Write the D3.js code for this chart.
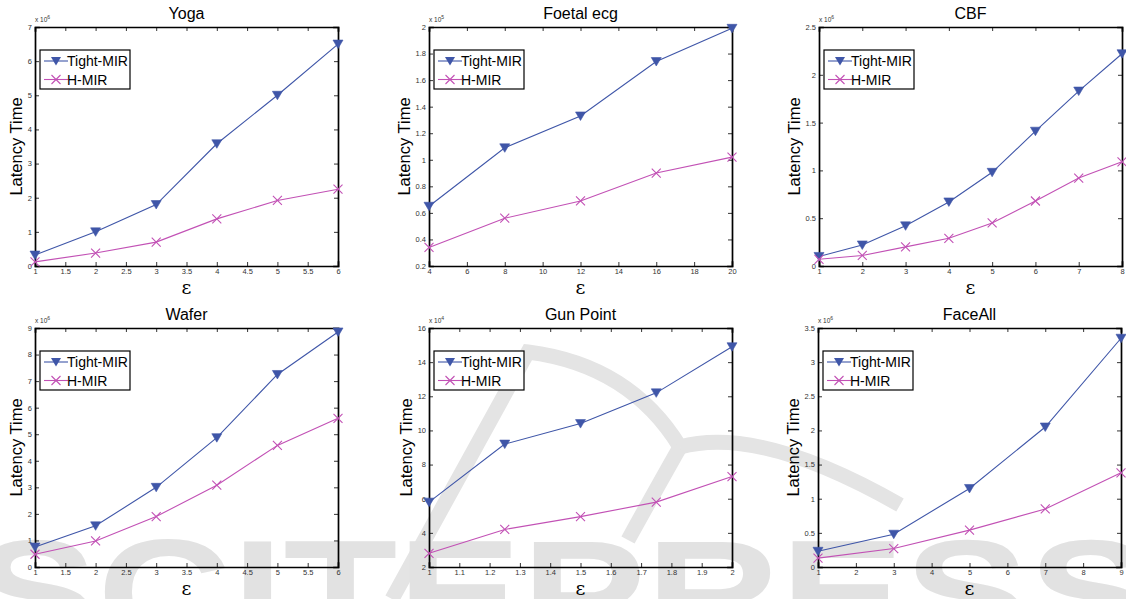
<!DOCTYPE html>
<html><head><meta charset="utf-8">
<script src="https://cdn.jsdelivr.net/npm/d3@7"></script>
<style>body{margin:0;background:#fff}svg{display:block}</style>
</head><body>
<svg id="c" width="1126" height="599"></svg>
<script>
// ---- data ----
const titles = ["Yoga","Foetal ecg","CBF","Wafer","Gun Point","FaceAll"];
const exponents = [6,5,6,6,4,6];
const xYoga = [1,2,3,4,5,6];
const tightYoga = [0.32,1.0,1.8,3.58,5.0,6.5];
const hYoga = [0.12,0.38,0.7,1.38,1.92,2.25];
const xFoetal = [4,8,12,16,20];
const tightFoetal = [0.65,1.09,1.33,1.74,1.99];
const hFoetal = [0.34,0.56,0.69,0.90,1.02];
const xCBF = [1,2,3,4,5,6,7,8];
const tightCBF = [0.10,0.22,0.42,0.67,0.98,1.41,1.83,2.22];
const hCBF = [0.07,0.11,0.20,0.29,0.45,0.68,0.92,1.09];
const xWafer = [1,2,3,4,5,6];
const tightWafer = [0.75,1.55,3.0,4.87,7.25,8.85];
const hWafer = [0.48,0.98,1.9,3.08,4.58,5.6];
const xGun = [1,1.25,1.5,1.75,2];
const tightGun = [5.8,9.2,10.4,12.2,14.9];
const hGun = [2.8,4.2,4.95,5.8,7.3];
const xFace = [1,3,5,7,9];
const tightFace = [0.23,0.48,1.15,2.05,3.35];
const hFace = [0.13,0.27,0.54,0.85,1.38];
const xTicksYoga = [1,1.5,2,2.5,3,3.5,4,4.5,5,5.5,6];
const xTicksFoetal = [4,6,8,10,12,14,16,18,20];
const xTicksCBF = [1,2,3,4,5,6,7,8];
const xTicksGun = [1,1.1,1.2,1.3,1.4,1.5,1.6,1.7,1.8,1.9,2];
const xTicksFace = [1,2,3,4,5,6,7,8,9];
const yTicksYoga = [0,1,2,3,4,5,6,7];
const yTicksFoetal = [0.2,0.4,0.6,0.8,1,1.2,1.4,1.6,1.8,2];
const yTicksCBF = [0,0.5,1,1.5,2,2.5];
const yTicksWafer = [0,1,2,3,4,5,6,7,8,9];
const yTicksGun = [2,4,6,8,10,12,14,16];
const yTicksFace = [0,0.5,1,1.5,2,2.5,3,3.5];
const seriesNames = ["Tight-MIR","H-MIR"];
const watermark = "SCITEPRESS";

const panels = [
  {x:xYoga, s:[tightYoga,hYoga], xd:[1,6], yd:[0,7], xt:xTicksYoga, yt:yTicksYoga, L:35, T:27},
  {x:xFoetal, s:[tightFoetal,hFoetal], xd:[4,20], yd:[0.2,2], xt:xTicksFoetal, yt:yTicksFoetal, L:429, T:27},
  {x:xCBF, s:[tightCBF,hCBF], xd:[1,8], yd:[0,2.5], xt:xTicksCBF, yt:yTicksCBF, L:819, T:27},
  {x:xWafer, s:[tightWafer,hWafer], xd:[1,6], yd:[0,9], xt:xTicksYoga, yt:yTicksWafer, L:35, T:328},
  {x:xGun, s:[tightGun,hGun], xd:[1,2], yd:[2,16], xt:xTicksGun, yt:yTicksGun, L:429, T:328},
  {x:xFace, s:[tightFace,hFace], xd:[1,9], yd:[0,3.5], xt:xTicksFace, yt:yTicksFace, L:818, T:328}
];
const W = 303, H = 239;
const colors = ["#3f56a8","#c251b5"];
const font = "Liberation Sans, Arial, sans-serif";

const svg = d3.select("#c");
// watermark (background logo)
const wm = svg.append("g").attr("fill","none").attr("stroke","#e4e4e4").attr("stroke-width",15).attr("stroke-linecap","butt");
wm.append("path").attr("d","M 392 599 L 528 352 Q 630 365 680 447");
wm.append("path").attr("d","M 680 447 Q 650 500 628 540");
wm.append("path").attr("d","M 680 447 Q 760 425 900 505");
svg.append("text").attr("x",563).attr("y",645).attr("text-anchor","middle")
  .attr("font-family",font).attr("font-weight","bold").attr("font-size",150)
  .attr("fill","#e2e2e2").attr("textLength",1180).attr("lengthAdjust","spacingAndGlyphs")
  .text(watermark);

panels.forEach((p,i)=>{
  const g = svg.append("g").attr("transform",`translate(${p.L},${p.T})`);
  const x = d3.scaleLinear().domain(p.xd).range([0,W]);
  const y = d3.scaleLinear().domain(p.yd).range([H,0]);
  const fmt = d=>String(+d.toFixed(2));
  // axes with inward ticks on all sides
  const axB = d3.axisBottom(x).tickValues(p.xt).tickSize(-4).tickPadding(3).tickFormat(fmt);
  const axT = d3.axisTop(x).tickValues(p.xt).tickSize(-4).tickFormat("");
  const axLf = d3.axisLeft(y).tickValues(p.yt).tickSize(-4).tickPadding(3).tickFormat(fmt);
  const axR = d3.axisRight(y).tickValues(p.yt).tickSize(-4).tickFormat("");
  const styleAx = sel=>{
    sel.selectAll("path").attr("stroke","#000").attr("stroke-width",1.7);
    sel.selectAll("line").attr("stroke","#000").attr("stroke-width",0.8);
    sel.selectAll("text").attr("font-family",font).attr("font-size",7.5).attr("fill","#333");
  };
  g.append("g").attr("transform",`translate(0,${H})`).call(axB).call(styleAx);
  g.append("g").call(axT).call(styleAx);
  const yAxG = g.append("g").call(axLf).call(styleAx);
  g.append("g").attr("transform",`translate(${W},0)`).call(axR).call(styleAx);
  g.selectAll(".domain").attr("stroke-linecap","square");
  let maxW = 0;
  yAxG.selectAll("text").each(function(){ maxW = Math.max(maxW, this.getBBox().width); });

  // lines
  p.s.forEach((vals,k)=>{
    const pts = p.x.map((xv,j)=>[x(xv),y(vals[j])]);
    g.append("path").attr("d",d3.line()(pts)).attr("fill","none")
      .attr("stroke",colors[k]).attr("stroke-width",1.1);
    pts.forEach(pt=>{
      if(k===0){
        g.append("path").attr("transform",`translate(${pt[0]},${pt[1]})`)
          .attr("d","M-5,-4 L5,-4 L0,4.5 Z").attr("fill",colors[0]).attr("stroke",colors[0]).attr("stroke-width",0.6);
      } else {
        g.append("path").attr("transform",`translate(${pt[0]},${pt[1]})`)
          .attr("d","M-4.5,-4.5 L4.5,4.5 M-4.5,4.5 L4.5,-4.5").attr("stroke",colors[1]).attr("stroke-width",1.1);
      }
    });
  });

  // title
  g.append("text").attr("x",W/2).attr("y",-8).attr("text-anchor","middle")
    .attr("font-family",font).attr("font-size",16).attr("fill","#000").text(titles[i]);
  // exponent
  const ex = g.append("text").attr("x",0).attr("y",-5).attr("font-family",font).attr("font-size",6.5).attr("fill","#333");
  ex.append("tspan").text("x 10");
  ex.append("tspan").attr("dy",-3).attr("font-size",5).text(exponents[i]);
  // y label
  const lx = -(maxW + 3 + 6);
  g.append("text").attr("transform",`translate(${lx},${H/2}) rotate(-90)`).attr("text-anchor","middle")
    .attr("font-family",font).attr("font-size",16.5).attr("fill","#000").text("Latency Time");
  // x label
  g.append("text").attr("x",W/2).attr("y",H+28).attr("text-anchor","middle")
    .attr("font-family","DejaVu Serif, serif").attr("font-size",19).attr("fill","#000").text("ε");

  // legend
  const lg = g.append("g").attr("transform","translate(5,23)");
  lg.append("rect").attr("width",90).attr("height",39).attr("fill","#fff").attr("stroke","#000").attr("stroke-width",1.2);
  seriesNames.forEach((nm,k)=>{
    const yy = 11 + k*18.5;
    lg.append("line").attr("x1",4).attr("x2",28).attr("y1",yy).attr("y2",yy).attr("stroke",colors[k]).attr("stroke-width",1.1);
    if(k===0){
      lg.append("path").attr("transform",`translate(16,${yy})`).attr("d","M-5,-4 L5,-4 L0,4.5 Z").attr("fill",colors[0]);
    } else {
      lg.append("path").attr("transform",`translate(16,${yy})`).attr("d","M-4.5,-4.5 L4.5,4.5 M-4.5,4.5 L4.5,-4.5").attr("stroke",colors[1]).attr("stroke-width",1.1);
    }
    lg.append("text").attr("x",27).attr("y",yy+5).attr("font-family",font).attr("font-size",14).attr("fill","#000").text(nm);
  });
});
</script>
</body></html>
